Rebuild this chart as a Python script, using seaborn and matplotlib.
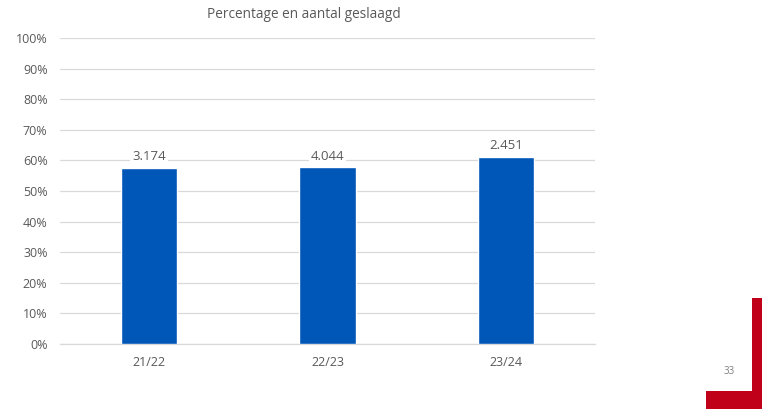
import matplotlib
matplotlib.use("Agg")
import matplotlib.pyplot as plt
import seaborn as sns
import pandas as pd
from matplotlib.patches import Rectangle
from matplotlib.ticker import PercentFormatter

categories = ["21/22", "22/23", "23/24"]
percentages = [57.4, 57.7, 61.0]
counts = ["3.174", "4.044", "2.451"]
title = "Percentage en aantal geslaagd"
page_number = "33"

df = pd.DataFrame({"jaar": categories, "pct": percentages})

sns.set_theme(style="white")
plt.rcParams["font.family"] = ["Open Sans", "DejaVu Sans"]

W, H = 762, 409
fig = plt.figure(figsize=(W / 100, H / 100), dpi=100)
ax = fig.add_axes([60 / W, 1 - 344 / H, 535 / W, 306 / H])

grey = "#595959"
sns.barplot(data=df, x="jaar", y="pct", color="#0057B8", width=0.315,
            saturation=1, ax=ax, zorder=3)

ax.set_ylim(0, 100)
ax.set_xlim(-0.5, 2.5)
ax.set_yticks(range(0, 101, 10))
ax.yaxis.set_major_formatter(PercentFormatter(decimals=0))
ax.grid(axis="y", color="#D9D9D9", linewidth=0.9, zorder=0)
ax.grid(axis="x", visible=False)
for s in ["top", "right", "left"]:
    ax.spines[s].set_visible(False)
ax.spines["bottom"].set_color("#D9D9D9")
ax.spines["bottom"].set_linewidth(0.9)
ax.set_xlabel("")
ax.set_ylabel("")
ax.tick_params(axis="both", length=0, labelsize=9, colors=grey, pad=9)
ax.tick_params(axis="x", pad=9)

for i, (p, c) in enumerate(zip(percentages, counts)):
    ax.text(i, p + 1.6, c, ha="center", va="bottom", fontsize=9.5, color=grey,
            zorder=4, bbox=dict(facecolor="white", edgecolor="none", pad=1.5))

fig.text(304 / W, 1 - 15 / H, title, ha="center", va="center", fontsize=9.8, color=grey)

# decorative page elements
red = "#C00018"
fig.patches.append(Rectangle((752 / W, 0), 10 / W, 111 / H, transform=fig.transFigure,
                             facecolor=red, edgecolor="none"))
fig.patches.append(Rectangle((706 / W, 0), 56 / W, 18 / H, transform=fig.transFigure,
                             facecolor=red, edgecolor="none"))
fig.text(729 / W, 1 - 372 / H, page_number, ha="center", va="center", fontsize=7, color="#7F7F7F")

fig.savefig("out.png", dpi=100)
